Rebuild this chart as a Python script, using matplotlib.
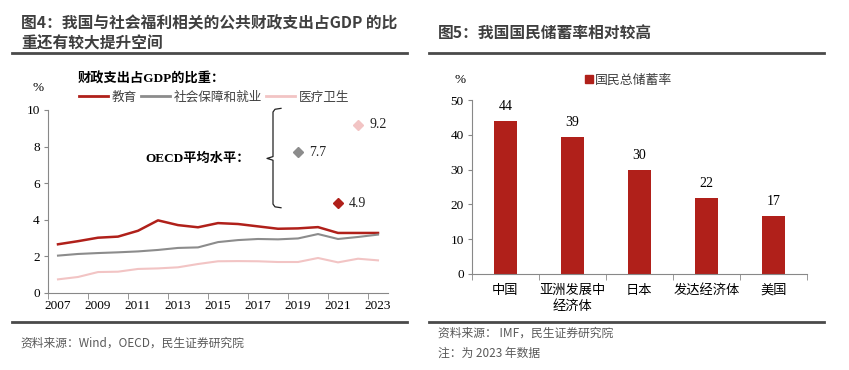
import numpy as np
import matplotlib
matplotlib.use('Agg')
import matplotlib.pyplot as plt
from matplotlib.lines import Line2D
from matplotlib.patches import Patch

plt.rcParams['font.family'] = ['Noto Sans CJK SC', 'DejaVu Sans']

# ---- data: left chart (fiscal spending as % of GDP) ----
years = list(range(2007, 2024))
education = [2.65, 2.82, 3.01, 3.07, 3.39, 3.96, 3.70, 3.58, 3.81, 3.76,
             3.63, 3.50, 3.52, 3.59, 3.27, 3.27, 3.27]
social = [2.03, 2.12, 2.17, 2.21, 2.26, 2.34, 2.45, 2.48, 2.77, 2.88,
          2.94, 2.92, 2.97, 3.21, 2.94, 3.05, 3.18]
health = [0.73, 0.86, 1.13, 1.15, 1.30, 1.33, 1.39, 1.57, 1.72, 1.73,
          1.72, 1.68, 1.68, 1.90, 1.66, 1.86, 1.77]
series_names = ['教育', '社会保障和就业', '医疗卫生']
oecd_values = [4.9, 7.7, 9.2]          # education, social, health
oecd_years = [2021, 2019, 2022]        # where the markers sit

# ---- data: right chart (gross national savings rate) ----
regions = ['中国', '亚洲发展中\n经济体', '日本', '发达经济体', '美国']
savings = [44.1, 39.4, 29.9, 22.0, 16.7]

RED = '#B0201A'
GRAY = '#8C8C8C'
PINK = '#F2C4C4'
colors = [RED, GRAY, PINK]
SERIF = 'Liberation Serif'

W, H = 849, 370
fig = plt.figure(figsize=(W / 100, H / 100), dpi=100)


def fx(px):
    return px / W


def fy(py):
    return 1 - py / H


# ---- left axes ----
ax1 = fig.add_axes([fx(48), fy(292.7), fx(340), 182.7 / H])
x = np.arange(len(years))
for vals, c, lw in zip([education, social, health], colors, [1.8, 1.5, 1.5]):
    ax1.plot(x, vals, color=c, lw=lw)
for v, yr, c in zip(oecd_values, oecd_years, colors):
    xi = years.index(yr)
    ax1.plot(xi, v, marker='D', ms=5, color=c, ls='none', clip_on=False)
    ax1.text(xi + 0.55, v, f'{v:.1f}', va='center', ha='left',
             fontsize=10, family=SERIF, color='#222222')

ax1.set_xlim(-0.5, len(years) - 0.5)
ax1.set_ylim(0, 10)
ax1.set_yticks(range(0, 11, 2))
ax1.set_yticklabels([str(v) for v in range(0, 11, 2)], family=SERIF, fontsize=9.5)
ax1.set_xticks(x[::2])
ax1.set_xticklabels([str(y) for y in years[::2]], family=SERIF, fontsize=9.5)
ax1.set_xticks(np.arange(-0.5, len(years), 2), minor=True)
ax1.tick_params(axis='x', which='major', length=0, pad=5)
ax1.tick_params(axis='x', which='minor', length=4, color='#888888')
ax1.tick_params(axis='y', length=3, color='#888888', pad=3)
for s in ['top', 'right']:
    ax1.spines[s].set_visible(False)
for s in ['left', 'bottom']:
    ax1.spines[s].set_color('#888888')
    ax1.spines[s].set_linewidth(0.8)

# curly brace in front of the OECD markers
bx, top, bot, mid = 10.75, 10.09, 4.65, 7.35
brace_x = [11.15, 10.85, bx, bx, 10.45, bx, bx, 10.85, 11.15]
brace_y = [top, top - 0.05, top - 0.2, mid + 0.1, mid, mid - 0.1, bot + 0.2, bot + 0.05, bot]
ax1.plot(brace_x, brace_y, color='#222222', lw=0.9, clip_on=False)
ax1.text(9.6, mid, 'OECD平均水平：', ha='right', va='center', fontsize=9.5,
         fontweight='bold', family=[SERIF, 'Noto Sans CJK SC'])

handles = [Line2D([0], [0], color=c, lw=2) for c in colors]
fig.legend(handles, series_names, loc='center left',
           bbox_to_anchor=(fx(79), fy(97)), ncol=3, frameon=False,
           fontsize=9.1, handlelength=2.3, handletextpad=0.3,
           columnspacing=0.3, labelcolor='#404040', borderaxespad=0,
           borderpad=0)
fig.text(fx(78), fy(79), '财政支出占GDP的比重：', fontsize=9.5, fontweight='bold',
         va='center', ha='left', family=[SERIF, 'Noto Sans CJK SC'])
fig.text(fx(38), fy(88), '%', fontsize=9.5, family=SERIF, ha='center', va='center')

# ---- right axes ----
ax2 = fig.add_axes([fx(472), fy(274), fx(334.7), 173.8 / H])
xr = np.arange(len(regions))
ax2.bar(xr, savings, width=0.34, color=RED, label='国民总储蓄率')
for xi, v in zip(xr, savings):
    ax2.text(xi, v + 2.2, f'{v:.0f}', ha='center', va='bottom',
             fontsize=10, family=SERIF)
ax2.set_xlim(-0.5, len(regions) - 0.5)
ax2.set_ylim(0, 50)
ax2.set_yticks(range(0, 51, 10))
ax2.set_yticklabels([str(v) for v in range(0, 51, 10)], family=SERIF, fontsize=9.5)
ax2.set_xticks(xr)
ax2.set_xticklabels(regions, fontsize=9.5, linespacing=1.3, va='top')
ax2.set_xticks(np.arange(-0.5, len(regions), 1), minor=True)
ax2.tick_params(axis='x', which='major', length=0, pad=7)
ax2.tick_params(axis='x', which='minor', length=4, color='#888888')
ax2.tick_params(axis='y', length=3, color='#888888', pad=3)
for s in ['top', 'right']:
    ax2.spines[s].set_visible(False)
for s in ['left', 'bottom']:
    ax2.spines[s].set_color('#888888')
    ax2.spines[s].set_linewidth(0.8)

fig.legend([Patch(color=RED)], ['国民总储蓄率'], loc='center left',
           bbox_to_anchor=(fx(585), fy(80)), frameon=False, fontsize=9.3,
           handlelength=0.6, handleheight=0.6, handletextpad=0.2,
           labelcolor='#404040', borderaxespad=0, borderpad=0)
fig.text(fx(460), fy(80), '%', fontsize=9.5, family=SERIF, ha='center', va='center')

# ---- titles, rules, sources ----
TITLE_C = '#3F3F3F'
fig.text(fx(21), fy(23), '图4：我国与社会福利相关的公共财政支出占GDP 的比',
         fontsize=11.3, fontweight='bold', color=TITLE_C, va='center')
fig.text(fx(21), fy(44), '重还有较大提升空间',
         fontsize=11.3, fontweight='bold', color=TITLE_C, va='center')
fig.text(fx(438), fy(34), '图5：我国国民储蓄率相对较高',
         fontsize=11.3, fontweight='bold', color=TITLE_C, va='center')

for x0, x1 in [(12, 407), (429, 824)]:
    for yy in [52.7, 322]:
        fig.add_artist(Line2D([fx(x0), fx(x1)], [fy(yy), fy(yy)],
                              color='#4A4A4A', lw=2))

SRC_C = '#595959'
fig.text(fx(20), fy(343), '资料来源：Wind，OECD，民生证券研究院',
         fontsize=8.5, color=SRC_C, va='center')
fig.text(fx(438), fy(333), '资料来源： IMF，民生证券研究院',
         fontsize=8.5, color=SRC_C, va='center')
fig.text(fx(438), fy(353), '注：为 2023 年数据',
         fontsize=8.5, color=SRC_C, va='center')

fig.savefig('out.png', dpi=100)
